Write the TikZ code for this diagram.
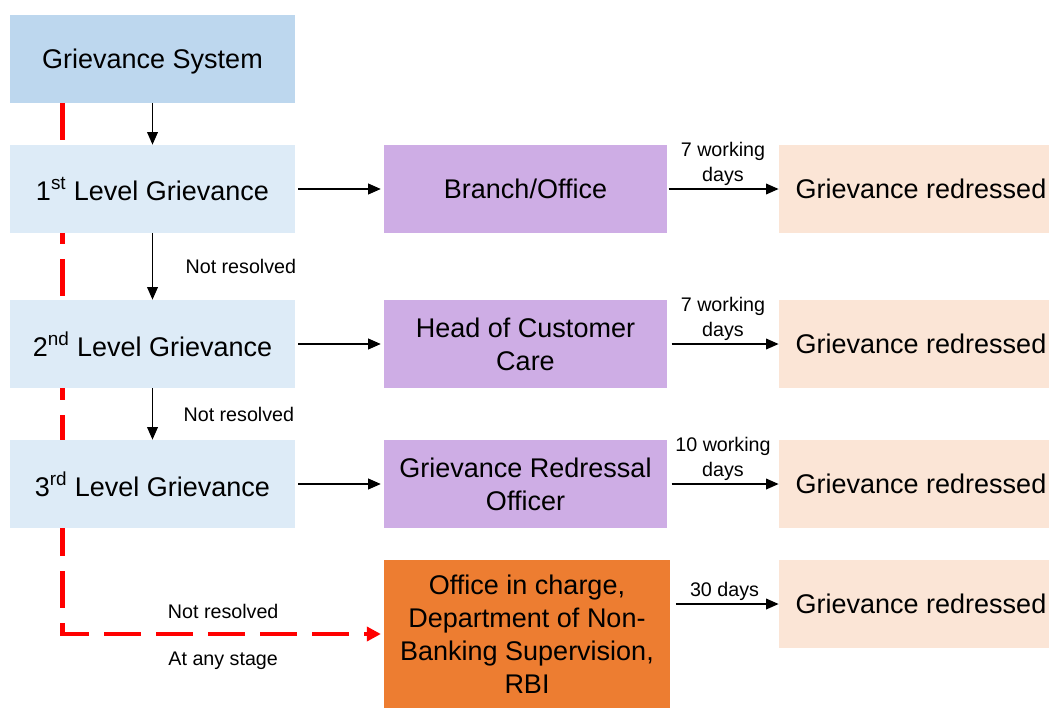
\documentclass[tikz,border=0pt]{standalone}
\usepackage{fontspec}
\setmainfont{Liberation Sans}
\usepackage{xcolor}
\usetikzlibrary{arrows.meta,positioning,backgrounds}

\definecolor{sysblue}{HTML}{BDD7EE}
\definecolor{levelblue}{HTML}{DDEBF7}
\definecolor{deskpurple}{HTML}{CEADE5}
\definecolor{rbiorange}{HTML}{ED7D31}
\definecolor{donepeach}{HTML}{FBE5D6}

\begin{document}
\begin{tikzpicture}[x=0.025cm, y=-0.025cm,
  box/.style={inner sep=0pt, minimum height=2.2cm, align=center, font=\fontsize{19.2}{23.4}\selectfont},
  levelbox/.style={box, fill=levelblue, minimum width=7.125cm},
  deskbox/.style={box, fill=deskpurple, minimum width=7.075cm},
  donebox/.style={box, fill=donepeach, minimum width=7.1cm},
  flow/.style={-{Triangle[length=9pt, width=7.5pt]}, line width=1.4pt},
  escalate/.style={-{Triangle[length=10pt, width=10pt]}, red, line width=3.2pt, dash pattern=on 0.925cm off 0.375cm},
  note/.style={inner sep=1.5pt, text=black, align=center, font=\fontsize{14}{17.7}\selectfont}]
  \useasboundingbox (0,0) rectangle (1049,709);

  % Levels
  \node[box, fill=sysblue, minimum width=7.125cm, text depth=0pt] (sys) at (152.5,59) {Grievance System};
  \node[levelbox] (lvl1) at (152.5,189) {1\textsuperscript{st} Level Grievance};
  \node[levelbox] (lvl2) at (152.5,344) {2\textsuperscript{nd} Level Grievance};
  \node[levelbox] (lvl3) at (152.5,484) {3\textsuperscript{rd} Level Grievance};

  % Who handles it
  \node[deskbox] (branch) at (525.5,189) {Branch/Office};
  \node[deskbox] (hcc) at (525.5,344) {Head of Customer\\Care};
  \node[deskbox] (gro) at (525.5,484) {Grievance Redressal\\Officer};
  \node[box, fill=rbiorange, minimum width=7.15cm, minimum height=3.7cm] (rbi) at (527,634)
    {Office in charge,\\Department of Non-\\Banking Supervision,\\RBI};

  % Outcomes
  \node[donebox] (done1) at (921,189) {Grievance redressed};
  \node[donebox] (done2) at (921,344) {Grievance redressed};
  \node[donebox] (done3) at (921,484) {Grievance redressed};
  \node[donebox] (done4) at (921,604) {Grievance redressed};

  % Escalation down the levels
  \draw[flow] (sys) -- (lvl1);
  \draw[flow] (lvl1) -- node[note, midway, right=0.75cm] {Not resolved} (lvl2);
  \draw[flow] (lvl2) -- node[note, midway, right=0.7cm] {Not resolved} (lvl3);

  % Level to handler
  \draw[flow, shorten <=2pt, shorten >=2pt] (lvl1) -- (branch);
  \draw[flow, shorten <=2pt, shorten >=2pt] (lvl2) -- (hcc);
  \draw[flow, shorten <=2pt, shorten >=2pt] (lvl3) -- (gro);

  % Handler to outcome
  \draw[flow, shorten <=1pt] (branch) -- node[note, above] {7 working\\days} (done1);
  \draw[flow, shorten <=3pt] (hcc) -- node[note, above] {7 working\\days} (done2);
  \draw[flow, shorten <=3pt] (gro) -- node[note, above] {10 working\\days} (done3);
  \draw[flow, shorten <=4pt] (rbi.east |- done4) -- node[note, above] {30 days} (done4);

  % Direct complaint to RBI, behind the level boxes
  \begin{scope}[on background layer]
    \draw[escalate, shorten >=2pt] (sys.south west) ++(53,0) |-
      node[note, pos=0.75, above=8pt] {Not resolved}
      node[note, pos=0.75, below=10pt] {At any stage} (rbi.west);
  \end{scope}
\end{tikzpicture}
\end{document}
